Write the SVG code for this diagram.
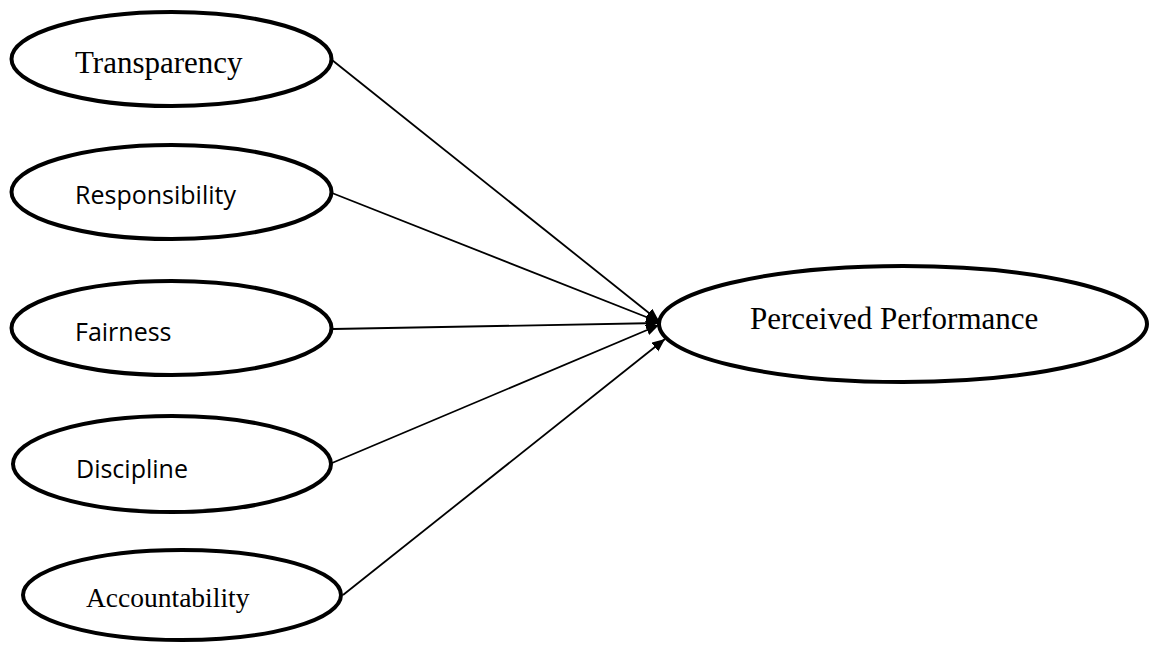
<svg xmlns="http://www.w3.org/2000/svg" width="1159" height="646" viewBox="0 0 1159 646">
<style>
.node ellipse{fill:#fff;stroke:#000;stroke-width:4}
.serif{font-family:"Liberation Serif","Times New Roman",serif;fill:#000}
.sans{font-family:"Open Sans","Liberation Sans",sans-serif;fill:#000;font-size:25px}
.edge{stroke:#000;stroke-width:1.8;fill:none;marker-end:url(#arrow)}
</style>
<defs>
<marker id="arrow" markerUnits="userSpaceOnUse" markerWidth="14" markerHeight="12" refX="13" refY="5.5" orient="auto">
<path d="M0,0 L13,5.5 L0,11 z" fill="#000"/>
</marker>
</defs>
<rect width="1159" height="646" fill="#fff"/>
<g id="connectors">
<line class="edge" x1="332" y1="60" x2="659" y2="321"/>
<line class="edge" x1="332" y1="193" x2="659" y2="322"/>
<line class="edge" x1="333" y1="329" x2="659" y2="323"/>
<line class="edge" x1="332" y1="463" x2="659" y2="325"/>
<line class="edge" x1="343" y1="595" x2="665" y2="339"/>
</g>
<g id="transparency" class="node">
<ellipse cx="171.5" cy="59" rx="160" ry="47"/>
<text class="serif" x="75" y="73" font-size="31">Transparency</text>
</g>
<g id="responsibility" class="node">
<ellipse cx="171.5" cy="192" rx="160" ry="47"/>
<text class="sans" x="75" y="204">Responsibility</text>
</g>
<g id="fairness" class="node">
<ellipse cx="171.5" cy="328" rx="160" ry="47"/>
<text class="sans" x="75" y="341">Fairness</text>
</g>
<g id="discipline" class="node">
<ellipse cx="172" cy="464" rx="159" ry="48"/>
<text class="sans" x="76" y="478">Discipline</text>
</g>
<g id="accountability" class="node">
<ellipse cx="182" cy="595" rx="159" ry="45"/>
<text class="serif" x="86" y="607" font-size="27.5">Accountability</text>
</g>
<g id="perceived-performance" class="node">
<ellipse cx="903" cy="324" rx="244" ry="58"/>
<text class="serif" x="750" y="329" font-size="31">Perceived Performance</text>
</g>
</svg>
